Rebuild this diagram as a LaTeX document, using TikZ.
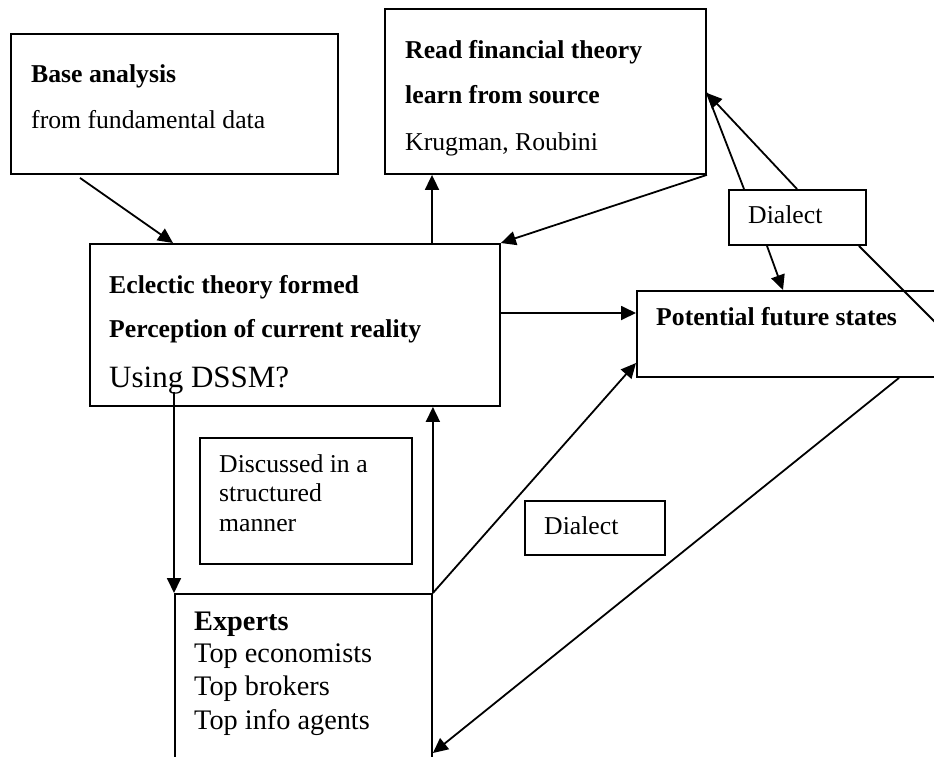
\documentclass[tikz,border=0pt]{standalone}
\usepackage{fontspec}
\setmainfont{Liberation Serif}
\usetikzlibrary{arrows.meta}
\tikzset{
  box/.style={draw, line width=1.9pt, inner sep=0pt, anchor=north west},
  lbl/.style={anchor=base west, inner sep=0pt, font=\fontsize{25.7}{30}\selectfont},
  lblbig/.style={anchor=base west, inner sep=0pt, font=\fontsize{31}{36}\selectfont},
  lblmid/.style={anchor=base west, inner sep=0pt, font=\fontsize{28.3}{33}\selectfont},
  arr/.style={line width=1.8pt, -{Triangle[length=15pt,width=14pt]}},
  ln/.style={line width=1.8pt}
}
\begin{document}
\begin{tikzpicture}[x=1pt,y=-1pt]
\useasboundingbox (0,0) rectangle (934,756);
\clip (0,0) rectangle (934,756);
% boxes
\node[box, minimum width=327pt, minimum height=140pt] (base) at (10,33) {};
\node[box, minimum width=321pt, minimum height=165pt] (read) at (384,8) {};
\node[box, minimum width=410pt, minimum height=162pt] (ecl) at (89,243) {};
\node[box, minimum width=137pt, minimum height=55pt] (dial1) at (728,189) {};
\node[box, minimum width=364pt, minimum height=86pt] (pot) at (636,290) {};
\node[box, minimum width=212pt, minimum height=126pt] (disc) at (199,437) {};
\node[box, minimum width=140pt, minimum height=54pt] (dial2) at (524,500) {};
\node[box, minimum width=257pt, minimum height=210pt] (exp) at (174,593) {};
% texts
\node[lbl] at (31,82) {\textbf{Base analysis}};
\node[lbl] at (31,128) {from fundamental data};
\node[lbl] at (405,58) {\textbf{Read financial theory}};
\node[lbl] at (405,103) {\textbf{learn from source}};
\node[lbl] at (405,150) {Krugman, Roubini};
\node[lbl] at (109,293) {\textbf{Eclectic theory formed}};
\node[lbl] at (109,337) {\textbf{Perception of current reality}};
\node[lblbig] at (109,387) {Using DSSM?};
\node[lbl] at (748,223) {Dialect};
\node[lbl] at (656,325) {\textbf{Potential future states}};
\node[lbl] at (219,472) {Discussed in a};
\node[lbl] at (219,501) {structured};
\node[lbl] at (219,531) {manner};
\node[lbl] at (544,534) {Dialect};
\node[lblmid] at (194,630) {\textbf{Experts}};
\node[lblmid] at (194,662) {Top economists};
\node[lblmid] at (194,695) {Top brokers};
\node[lblmid] at (194,729) {Top info agents};
% connectors
\coordinate (edge) at (970,357);
\draw[arr] ([xshift=70pt,yshift=-3pt]base.south west) -- ([xshift=84pt]ecl.north west);
\draw[arr] ([xshift=343pt]ecl.north west) -- ([xshift=48pt]read.south west);
\draw[arr] (read.south east) -- (ecl.north east);
\draw[arr] ([yshift=-70pt]ecl.north east) -- ([yshift=-23pt]pot.north west);
\draw[ln] ([xshift=16pt]dial1.north west) -- ([yshift=-85pt]read.north east);
\draw[arr] ([xshift=69pt]dial1.north west) -- ([yshift=-85pt]read.north east);
\draw[arr] ([xshift=39pt]dial1.south west) -- ([xshift=147pt]pot.north west);
\draw[ln] ([xshift=-8pt]dial1.south east) -- (edge);
\draw[arr] (exp.north east) -- ([yshift=-73pt]pot.north west);
\draw[arr] ([xshift=263pt]pot.south west) -- ([yshift=-160pt]exp.north east);
\draw[arr] ([yshift=15pt]ecl.south west -| exp.north west) -- (exp.north west);
\draw[arr] (exp.north east) -- (ecl.south west -| exp.north east);
\end{tikzpicture}
\end{document}
